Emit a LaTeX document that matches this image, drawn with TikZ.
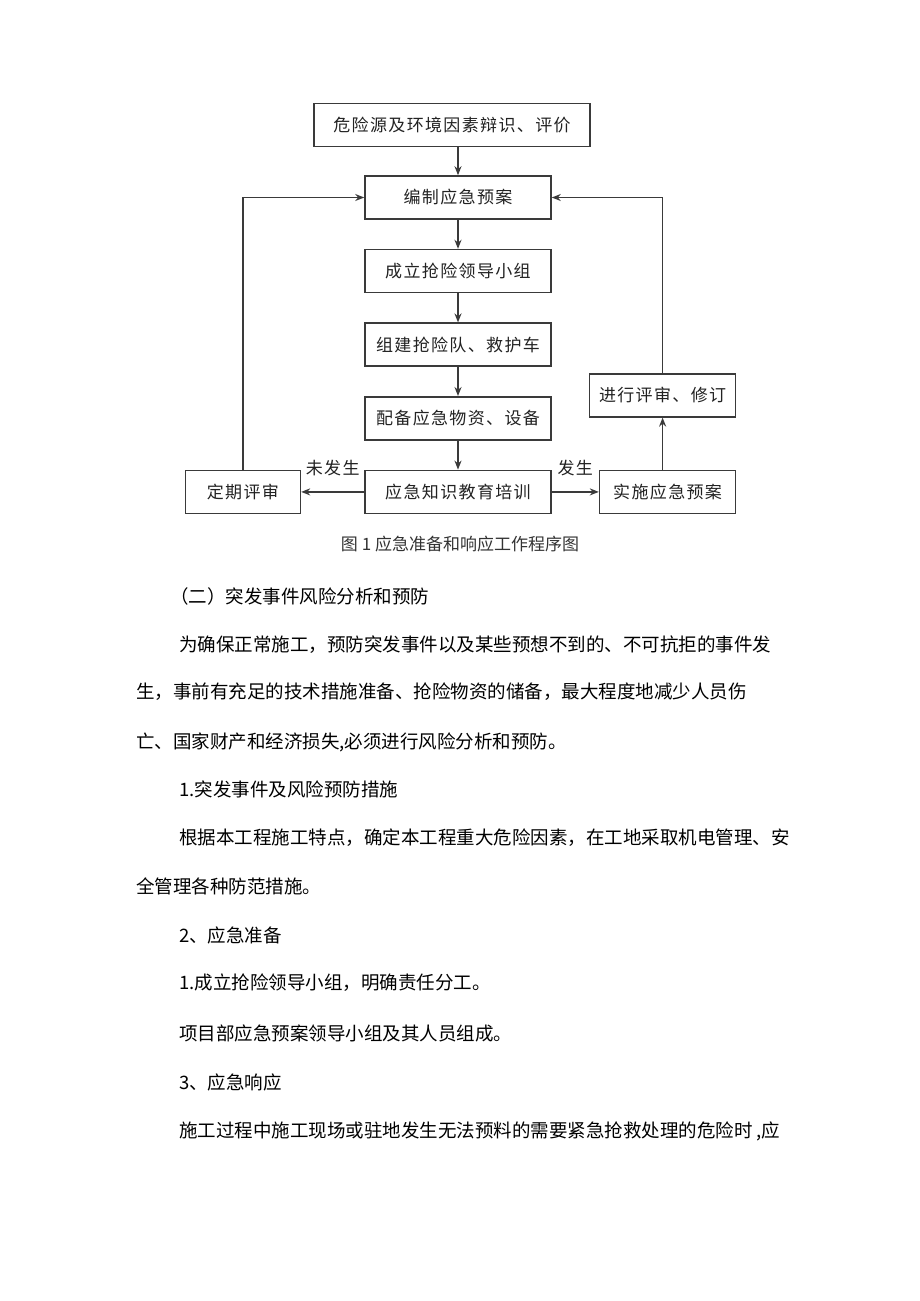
\documentclass[tikz,border=0pt]{standalone}
\usepackage{xcolor}
\usepackage{tikz}
\usepackage{fontspec}
\usetikzlibrary{arrows.meta,positioning}
\setmainfont{Noto Sans CJK SC}
\newfontfamily\boxfont[LetterSpace=8]{Noto Sans CJK SC}
\definecolor{ydLine}{HTML}{3A3A3A}
\definecolor{ydText}{HTML}{222222}
\definecolor{ydCap}{HTML}{333333}
\tikzset{
  procbox/.style={rectangle,draw=ydLine,line width=1.6pt,text=ydText,
    minimum width=186pt,minimum height=43pt,inner sep=0pt,align=center,
    font=\boxfont\fontsize{17}{20}\selectfont},
  procwide/.style={procbox,minimum width=276pt},
  sidebox/.style={procbox,minimum width=115pt},
  flowlabel/.style={text=ydText,inner sep=2pt,font=\boxfont\fontsize{17}{20}\selectfont},
  arrow/.style={-{Stealth[length=9pt,width=7pt]},draw=ydLine,line width=1.6pt},
  captiontext/.style={text=ydCap,inner sep=0pt,font=\fontsize{17}{20}\selectfont},
  bodyline/.style={anchor=west,inner sep=0pt,text=black,font=\fontsize{18.5}{22}\selectfont}
}

\begin{document}
\begin{tikzpicture}[x=1pt,y=-1pt,node distance=29pt]
  \useasboundingbox[fill=white] (0,0) rectangle (920,1301);
  % main column
  \node[procwide] (d1) at (452,125) {危险源及环境因素辩识、评价};
  \node[procbox] (d2) at (458,197.5) {编制应急预案};
  \node[procbox, below=of d2] (d3) {成立抢险领导小组};
  \node[procbox, below=of d3] (d4) {组建抢险队、救护车};
  \node[procbox, below=of d4] (d5) {配备应急物资、设备};
  \node[procbox, below=of d5] (d6) {应急知识教育培训};
  % side branches
  \node[sidebox, left=63pt of d6] (dq) {定期评审};
  \node[sidebox, right=47pt of d6, minimum width=136pt] (ps) {实施应急预案};
  \node[sidebox, above=52pt of ps, xshift=-5pt, minimum width=146pt] (pr) {进行评审、修订};
  \draw[arrow] (d2.north |- d1.south) -- (d2.north);
  \draw[arrow] (d2) -- (d3);
  \draw[arrow] (d3) -- (d4);
  \draw[arrow] (d4) -- (d5);
  \draw[arrow] (d5) -- (d6);
  \draw[arrow] (d6.west) -- node[flowlabel, above=13pt] (nl) {未发生} (dq.east);
  \draw[arrow] (d6.east) -- node[flowlabel, above=13pt] (yl) {发生} (ps.west);
  \draw[arrow] (pr.south |- ps.north) -- (pr.south);
  \draw[arrow] (dq.north) |- (d2.west);
  \draw[arrow] (pr.north) |- (d2.east);
  \node[captiontext] (cap) at (460,544) {图 1 应急准备和响应工作程序图};
  % text below the figure
  \node[bodyline] (t1) at (170,596) {（二）突发事件风险分析和预防};
  \node[bodyline] (t2) at (179,645) {为确保正常施工，预防突发事件以及某些预想不到的、不可抗拒的事件发};
  \node[bodyline] (t3) at (136,692) {生，事前有充足的技术措施准备、抢险物资的储备，最大程度地减少人员伤};
  \node[bodyline] (t4) at (136,742) {亡、国家财产和经济损失,必须进行风险分析和预防。};
  \node[bodyline] (t5) at (179,789) {1.突发事件及风险预防措施};
  \node[bodyline] (t6) at (179,838) {根据本工程施工特点，确定本工程重大危险因素，在工地采取机电管理、安};
  \node[bodyline] (t7) at (136,886) {全管理各种防范措施。};
  \node[bodyline] (t8) at (179,935) {2、应急准备};
  \node[bodyline] (t9) at (179,983) {1.成立抢险领导小组，明确责任分工。};
  \node[bodyline] (t10) at (179,1033) {项目部应急预案领导小组及其人员组成。};
  \node[bodyline] (t11) at (179,1082) {3、应急响应};
  \node[bodyline] (t12) at (179,1131) {施工过程中施工现场或驻地发生无法预料的需要紧急抢救处理的危险时 ,应};
\end{tikzpicture}
\end{document}
